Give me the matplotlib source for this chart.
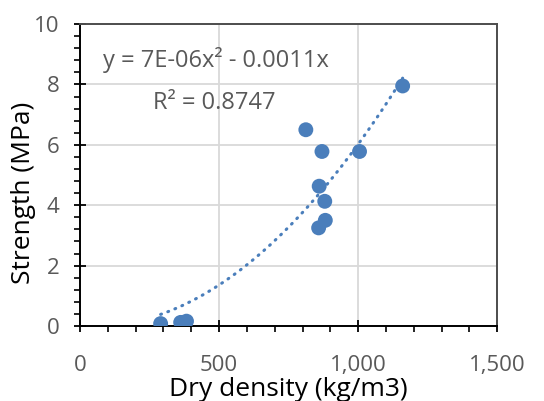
import numpy as np
import matplotlib
matplotlib.use("Agg")
import matplotlib.pyplot as plt
from matplotlib.ticker import MultipleLocator, FuncFormatter

plt.rcParams['font.family'] = ['Open Sans', 'DejaVu Sans']

# data
density = [290, 362, 383, 812, 858, 860, 870, 880, 882, 1005, 1160]
strength = [0.08, 0.12, 0.16, 6.5, 3.25, 4.63, 5.78, 4.13, 3.5, 5.78, 7.95]
eq_text = "y = 7E-06x\u00b2 - 0.0011x"
r2_text = "R\u00b2 = 0.8747"

BLUE = '#4a7ebb'
GREY = '#595959'

x = np.array(density, dtype=float)
y = np.array(strength, dtype=float)

# quadratic trendline through origin (least squares)
A = np.column_stack([x**2, x])
coef = np.linalg.lstsq(A, y, rcond=None)[0]
xs = np.linspace(x.min(), x.max(), 200)
ys = coef[0] * xs**2 + coef[1] * xs

fig = plt.figure(figsize=(5.44, 4.01), dpi=100)
ax = fig.add_axes([0.147, 0.187, 0.767, 0.753])

ax.plot(xs, ys, linestyle=(0, (0.3, 2.2)), color=BLUE, linewidth=2.2,
        dash_capstyle='round', zorder=2)
ax.scatter(x, y, s=115, color=BLUE, edgecolors='none', zorder=3)

ax.set_xlim(0, 1500)
ax.set_ylim(0, 10)
ax.xaxis.set_major_locator(MultipleLocator(500))
ax.xaxis.set_minor_locator(MultipleLocator(100))
ax.yaxis.set_major_locator(MultipleLocator(2))
ax.yaxis.set_minor_locator(MultipleLocator(0.4))
ax.xaxis.set_major_formatter(FuncFormatter(lambda v, p: f"{int(v):,}"))

ax.grid(True, which='major', color='#d9d9d9', linewidth=1.3, zorder=0)
ax.set_axisbelow(True)

for s in ['left', 'bottom']:
    ax.spines[s].set_color('black')
    ax.spines[s].set_linewidth(1.4)
for s in ['top', 'right']:
    ax.spines[s].set_color('#4d4d4d')
    ax.spines[s].set_linewidth(1.4)

ax.tick_params(which='major', direction='inout', length=8, width=1.3,
               color='black', labelsize=16, labelcolor=GREY)
ax.tick_params(axis='x', which='major', pad=17)
ax.tick_params(axis='y', which='major', pad=11)
ax.tick_params(which='minor', direction='out', length=4.5, width=1.2, color='black')

ax.set_xlabel("Dry density (kg/m3)", fontsize=19, color='black')
ax.set_ylabel("Strength (MPa)", fontsize=19, color='black')
ax.yaxis.set_label_coords(-0.106, 0.44)
ax.xaxis.set_label_coords(0.5, -0.17)
ax.xaxis.label.set_va('top')

ax.text(489, 8.8, eq_text, fontsize=17, color=GREY, ha='center', va='center')
ax.text(482, 7.38, r2_text, fontsize=17, color=GREY, ha='center', va='center')

fig.savefig("out.png", dpi=100)
